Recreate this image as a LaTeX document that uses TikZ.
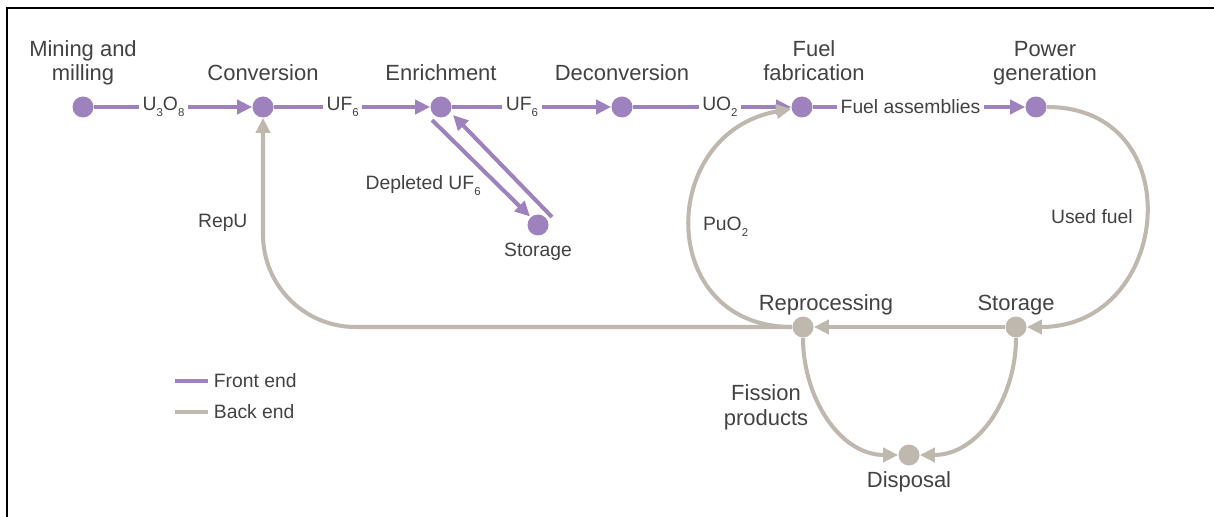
\documentclass[tikz,border=0pt]{standalone}
\usepackage{fontspec}
\setmainfont{Liberation Sans}
\usetikzlibrary{arrows.meta,positioning}
\definecolor{frontc}{RGB}{158,130,190}
\definecolor{backc}{RGB}{191,184,175}
\definecolor{txtc}{RGB}{66,66,66}
\newcommand{\chemsub}[1]{\raisebox{-0.55ex}{\fontsize{6.5}{7}\selectfont #1}}
\begin{document}
\begin{tikzpicture}[
  dotf/.style={circle,fill=frontc,minimum size=0.42cm,inner sep=0pt},
  dotb/.style={circle,fill=backc,minimum size=0.42cm,inner sep=0pt},
  fe/.style={draw=frontc,line width=2.3pt},
  be/.style={draw=backc,line width=2.3pt},
  arr/.style={-{Triangle[length=0.3cm,width=0.28cm]}},
  big/.style={text=txtc,font=\fontsize{12.5}{13.9}\selectfont,align=center,inner sep=0pt},
  sm/.style={text=txtc,font=\fontsize{11}{13}\selectfont,inner sep=2pt},
  gap/.style={sm,fill=white},
]
\useasboundingbox (0,0) rectangle (24.28,-10.34);
\draw[line width=1.2pt] (0.14,-10.34) |- (24.28,-0.16);

\node[dotf] (mine) at (1.66,-2.14) {};
\node[dotf] (conv) at (5.26,-2.14) {};
\node[dotf] (enr) at (8.82,-2.14) {};
\node[dotf] (deconv) at (12.44,-2.14) {};
\node[dotf] (fab) at (16.04,-2.14) {};
\node[dotf] (pow) at (20.72,-2.14) {};
\node[dotf] (dustore) at (10.76,-4.50) {};
\node[dotb] (repro) at (16.06,-6.54) {};
\node[dotb] (usestore) at (20.32,-6.54) {};
\node[dotb] (disp) at (18.18,-9.10) {};

\node[big,anchor=base] (lmine) at ([yshift=0.52cm]mine.center) {Mining and\\milling};
\node[big,anchor=base] (lconv) at ([yshift=0.52cm]conv.center) {Conversion};
\node[big,anchor=base] (lenr) at ([yshift=0.52cm]enr.center) {Enrichment};
\node[big,anchor=base] (ldeconv) at ([yshift=0.52cm]deconv.center) {Deconversion};
\node[big,anchor=base] (lfab) at ([xshift=0.24cm,yshift=0.52cm]fab.center) {Fuel\\fabrication};
\node[big,anchor=base] (lpow) at ([xshift=0.18cm,yshift=0.52cm]pow.center) {Power\\generation};
\node[sm,anchor=base] (ldustore) at ([yshift=-0.62cm]dustore.center) {Storage};
\node[big,anchor=base] (lrepro) at ([xshift=0.46cm,yshift=0.34cm]repro.center) {Reprocessing};
\node[big,anchor=base] (lusestore) at ([yshift=0.34cm]usestore.center) {Storage};
\node[big,anchor=base] (ldisp) at ([yshift=-0.64cm]disp.center) {Disposal};

\draw[fe,arr] (mine) -- node[gap,pos=0.44]{U\chemsub{3}O\chemsub{8}} (conv);
\draw[fe,arr] (conv) -- node[gap,pos=0.44]{UF\chemsub{6}} (enr);
\draw[fe,arr] (enr) -- node[gap,pos=0.44]{UF\chemsub{6}} (deconv);
\draw[fe,arr] (deconv) -- node[gap,pos=0.55]{UO\chemsub{2}} (fab);
\draw[fe,arr] (fab) -- node[gap,pos=0.46]{Fuel assemblies} (pow);
\draw[fe,arr] ([shift={(-0.18,-0.26)}]enr.center) -- node[sm,pos=0.68,left=0.25cm]{Depleted UF\chemsub{6}} ([shift={(-0.16,0.17)}]dustore.center);
\draw[fe,arr] ([shift={(0.28,0.16)}]dustore.center) -- ([shift={(0.24,-0.16)}]enr.center);

\draw[be,arr] (pow) to[out=0,in=0,looseness=1.68] node[sm,pos=0.5,left=0.15cm]{Used fuel} (usestore);
\draw[be,arr] (usestore) -- (repro);
\draw[be,arr] (usestore) to[out=-90,in=0] (disp);
\draw[be,arr] (repro) to[out=-90,in=180] node[big,pos=0.42,left=0.22cm]{Fission\\products} (disp);
\draw[be,arr,rounded corners=1.85cm] (repro.west) -| node[sm,pos=0.75,left=0.2cm]{RepU} (conv.south);
\draw[be,arr] (repro) to[out=180,in=190,looseness=1.6] node[sm,pos=0.5,right=0.15cm]{PuO\chemsub{2}} (fab);

\node[sm,anchor=west] (lgfront) at (4.2,-7.62) {Front end};
\node[sm,anchor=west] (lgback) at (4.2,-8.24) {Back end};
\draw[fe] ([xshift=-0.04cm]lgfront.west) -- ++(-0.66,0);
\draw[be] ([xshift=-0.04cm]lgback.west) -- ++(-0.66,0);
\end{tikzpicture}
\end{document}
